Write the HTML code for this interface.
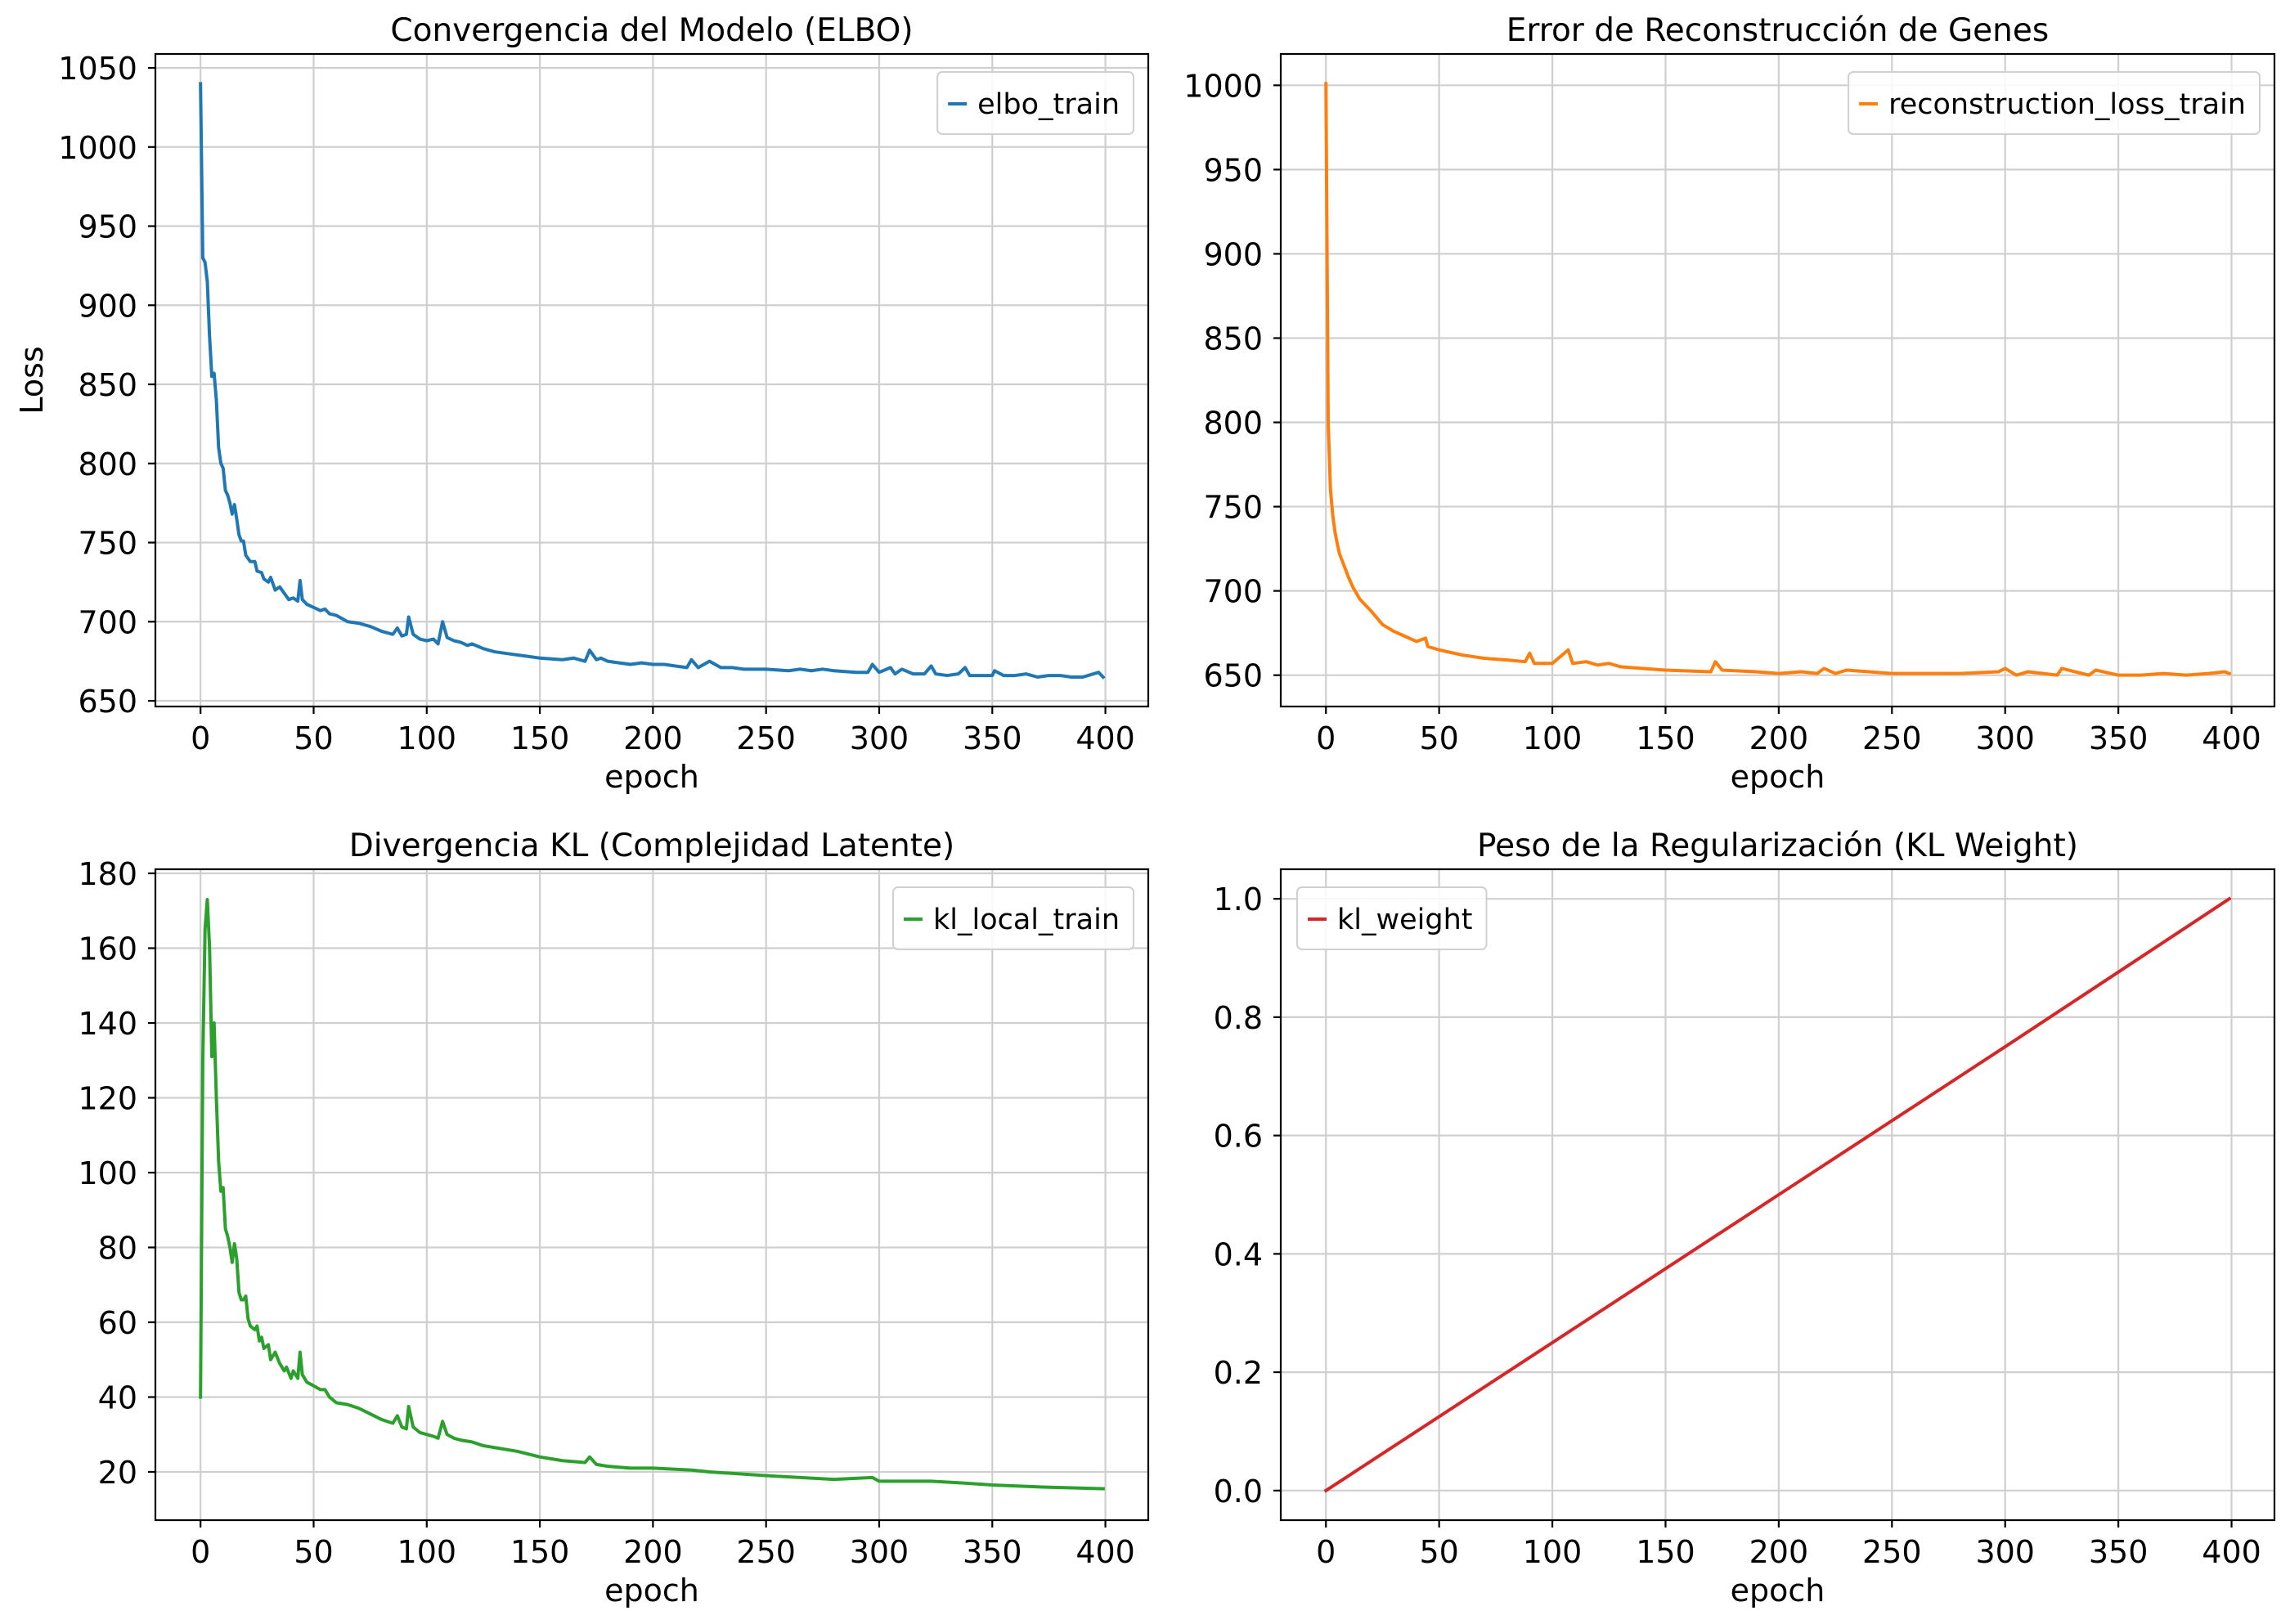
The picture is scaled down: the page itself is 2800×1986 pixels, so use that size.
<!DOCTYPE html>
<html><head><meta charset="utf-8">
<style>
html,body{margin:0;padding:0;background:#fff;}
svg{display:block;font-family:"DejaVu Sans","Liberation Sans",sans-serif;}
</style></head>
<body>
<svg id="fig" width="2800" height="1986" viewBox="0 0 2800 1986" xmlns="http://www.w3.org/2000/svg"></svg>
<script>
// ---- data (estimated from reference) ----
const elboEpochs = [0,1,2,3,4,5,6,7,8,9,10,11,12,13,14,15,16,17,18,19,20,22,24,25,27,28,30,31,33,35,37,39,41,43,44,45,47,50,53,55,57,60,65,70,75,80,85,87,89,91,92,94,97,100,103,105,107,109,112,115,118,120,125,130,140,150,160,165,170,172,175,177,180,185,190,195,200,205,210,215,217,220,225,230,235,240,250,260,265,270,275,280,290,295,297,300,305,307,310,315,320,323,325,330,335,338,340,345,350,351,355,360,365,370,375,380,385,390,397,399];
const elboValues = [1040,930,927,915,880,855,857,840,810,800,797,783,780,775,768,774,765,755,751,751,742,738,738,732,731,727,725,728,720,722,718,714,715,713,726,714,711,709,707,708,705,704,700,699,697,694,692,696,691,692,703,692,689,688,689,686,700,690,688,687,685,686,683,681,679,677,676,677,675,682,676,677,675,674,673,674,673,673,672,671,676,671,675,671,671,670,670,669,670,669,670,669,668,668,673,668,671,667,670,667,667,672,667,666,667,671,666,666,666,669,666,666,667,665,666,666,665,665,668,665];
const reconEpochs = [0,1,2,3,4,5,6,8,10,12,15,20,25,30,35,40,44,45,50,60,70,80,88,90,92,100,107,109,115,120,125,130,150,170,172,175,190,200,210,217,220,225,230,250,270,280,297,300,305,310,323,325,337,340,350,360,370,380,390,397,399];
const reconValues = [1001,800,760,745,735,728,722,715,708,702,695,688,680,676,673,670,672,667,665,662,660,659,658,663,657,657,665,657,658,656,657,655,653,652,658,653,652,651,652,651,654,651,653,651,651,651,652,654,650,652,650,654,650,653,650,650,651,650,651,652,651];
const klEpochs = [0,1,2,3,4,5,6,7,8,9,10,11,12,13,14,15,16,17,18,19,20,21,22,24,25,26,27,28,30,31,33,35,37,38,40,41,43,44,45,47,50,53,55,57,60,65,70,75,80,85,87,89,91,92,94,97,100,103,105,107,109,112,115,120,125,130,140,150,160,170,172,175,180,190,200,217,225,250,280,297,300,323,338,350,370,399];
const klValues = [40,130,165,173,160,131,140,120,103,95,96,85,83,80,76,81,77,68,66,66,67,61,59,58,59,55,56,53,54,50,52,49,47,48,45,47,45,52,46,44,43,42,42,40,38.5,38,37,35.5,34,33,35,32,31.5,37.5,32,30.5,30,29.5,29,33.5,30,29,28.5,28,27,26.5,25.5,24,23,22.5,24,22,21.5,21,21,20.5,20,19,18,18.5,17.5,17.5,17,16.5,16,15.5];
const kwEpochs = [0,100,200,300,399];
const kwValues = [0,0.25,0.5,0.75,1.0];
const xTicks = [0,50,100,150,200,250,300,350,400];
const elboTicks = [650,700,750,800,850,900,950,1000,1050];
const reconTicks = [650,700,750,800,850,900,950,1000];
const klTicks = [20,40,60,80,100,120,140,160,180];
const kwTicks = [0.0,0.2,0.4,0.6,0.8,1.0];

const NS = "http://www.w3.org/2000/svg";
const fig = document.getElementById('fig');
function mk(tag, attrs, parent){
  const e = document.createElementNS(NS, tag);
  for (const k in attrs) e.setAttribute(k, attrs[k]);
  (parent||fig).appendChild(e);
  return e;
}

function panel(o){
  const g = mk('g', {});
  
  
  const L=o.left, R=o.right, T=o.top, B=o.bottom;
  const xmin=-19.95, xmax=418.95;
  const xs = v => L + (v - xmin)/(xmax - xmin)*(R-L);
  const ys = v => B - (v - o.ymin)/(o.ymax - o.ymin)*(B-T);
  xTicks.forEach(t=>{
    const l = mk('line',{x1:xs(t),x2:xs(t),y1:T,y2:B,stroke:'#cfcfcf','stroke-width':2.2},g);
    
    
  });
  o.yTicks.forEach(t=>{
    const l = mk('line',{x1:L,x2:R,y1:ys(t),y2:ys(t),stroke:'#cfcfcf','stroke-width':2.2},g);
    
    
  });
  let d='';
  o.ex.forEach((e,i)=>{ d += (i?'L':'M') + xs(e).toFixed(2) + ' ' + ys(o.ev[i]).toFixed(2); });
  const p = mk('path',{d:d,fill:'none',stroke:o.color,'stroke-width':4,'stroke-linejoin':'round','stroke-linecap':'square'},g);
  
  
  const sp = mk('rect',{x:L,y:T,width:R-L,height:B-T,fill:'none',stroke:'#000','stroke-width':2.2},g);
  
  
  xTicks.forEach(t=>{
    mk('line',{x1:xs(t),x2:xs(t),y1:B,y2:B+9,stroke:'#000','stroke-width':2.2},g);
    const tx = mk('text',{x:xs(t),y:B+52,'text-anchor':'middle','font-size':38,fill:'#000'},g);
    tx.textContent = t;
    
    
  });
  o.yTicks.forEach(t=>{
    mk('line',{x1:L-9,x2:L,y1:ys(t),y2:ys(t),stroke:'#000','stroke-width':2.2},g);
    const tx = mk('text',{x:L-22,y:ys(t)+14,'text-anchor':'end','font-size':38,fill:'#000'},g);
    tx.textContent = o.fmt ? o.fmt(t) : t;
    
    
  });
  const xl = mk('text',{x:(L+R)/2,y:B+99,'text-anchor':'middle','font-size':38,fill:'#000'},g);
  xl.textContent='epoch';
  
  
  const ti = mk('text',{x:(L+R)/2,y:T-16,'text-anchor':'middle','font-size':39,fill:'#000'},g);
  ti.textContent=o.title;
  
  
  const lg = mk('g',{},g);
  
  
  const box = mk('rect',{y:T+22,height:76,rx:6,fill:'#fff','fill-opacity':0.85,stroke:'#d0d0d0','stroke-width':2},lg);
  const lt = mk('text',{y:T+73,'font-size':35,fill:'#000'},lg);
  lt.textContent=o.seriesName;
  
  
  const tw = lt.getComputedTextLength();
  const bw = 49 + tw + 17;
  const bx = o.legendLeft ? L+20 : R-18-bw;
  box.setAttribute('x',bx); box.setAttribute('width',bw);
  lt.setAttribute('x',bx+49);
  const h = mk('line',{x1:bx+13,x2:bx+36,y1:T+61,y2:T+61,stroke:o.color,'stroke-width':4},lg);
  
  
  return g;
}

panel({name:'elbo-panel',left:190,right:1404,top:66,bottom:864,ymin:646.4,ymax:1058.8,yTicks:elboTicks,ex:elboEpochs,ev:elboValues,color:'#1f77b4',seriesName:'elbo_train',title:'Convergencia del Modelo (ELBO)'});
panel({name:'reconstruction-panel',left:1566,right:2781,top:66,bottom:864,ymin:631.4,ymax:1018.6,yTicks:reconTicks,ex:reconEpochs,ev:reconValues,color:'#ff7f0e',seriesName:'reconstruction_loss_train',title:'Error de Reconstrucción de Genes'});
panel({name:'kl-panel',left:190,right:1404,top:1063,bottom:1859,ymin:7.1,ymax:181.1,yTicks:klTicks,ex:klEpochs,ev:klValues,color:'#2ca02c',seriesName:'kl_local_train',title:'Divergencia KL (Complejidad Latente)'});
panel({name:'kl-weight-panel',left:1566,right:2781,top:1063,bottom:1859,ymin:-0.05,ymax:1.05,yTicks:kwTicks,ex:kwEpochs,ev:kwValues,color:'#d62728',seriesName:'kl_weight',title:'Peso de la Regularización (KL Weight)',legendLeft:true,fmt:v=>v.toFixed(1)});

const yl = mk('text',{x:0,y:0,'text-anchor':'middle','font-size':38,fill:'#000',transform:'translate(52,465) rotate(-90)'});
yl.textContent='Loss';


</script>
</body></html>
